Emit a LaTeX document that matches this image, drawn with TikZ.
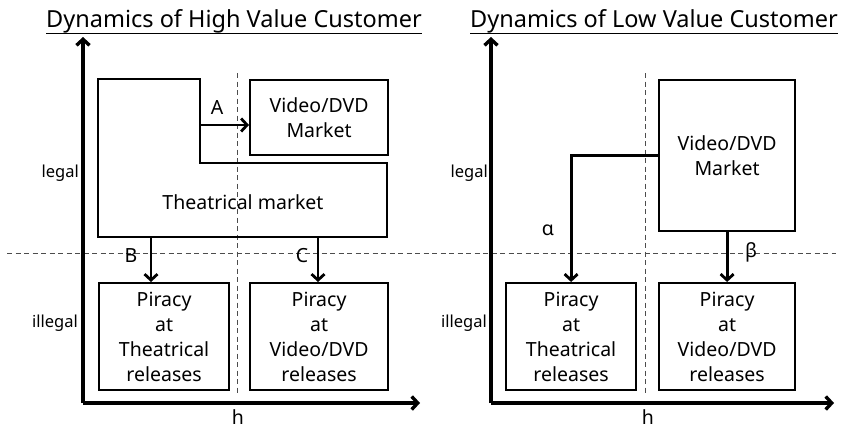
\documentclass[tikz,border=0pt]{standalone}
\usepackage{fontspec}
\setmainfont{Noto Sans}
\usetikzlibrary{arrows.meta,positioning}

\begin{document}
\begin{tikzpicture}[
  x=1pt,
  y=-1pt,
  >={Straight Barb[length=6pt,width=13pt]}
]

  \tikzstyle{boxnode}=[draw,rectangle,line width=2.2pt,inner sep=0pt,anchor=north west,align=center,font=\fontsize{19.5}{25}\selectfont]
  \tikzstyle{textnode}=[inner sep=0pt,font=\fontsize{19.5}{25}\selectfont]
  \tikzstyle{sidelab}=[inner sep=0pt,anchor=east,font=\fontsize{16.5}{18}\selectfont]
  \tikzstyle{titlenode}=[inner sep=0pt,anchor=base,font=\fontsize{23.5}{26}\selectfont]
  \tikzstyle{axis}=[draw,->,line width=3.4pt]
  \tikzstyle{pointer}=[draw,->,line width=2.8pt]
  \tikzstyle{guide}=[draw,dashed,line width=0.8pt,black!70,dash pattern=on 5pt off 3.5pt]

  \useasboundingbox (0,0) rectangle (842,431);

  % guides
  \draw[guide] (7,253) -- (836,253);
  \draw[guide] (237,73) -- (237,395);
  \draw[guide] (645,73) -- (645,395);

  % titles
  \node[titlenode] (titleH) at (234,27) {Dynamics of High Value Customer};
  \node[titlenode] (titleL) at (654,27) {Dynamics of Low Value Customer};
  \draw[line width=1pt] ([yshift=-6pt]titleH.base west) -- ([yshift=-6pt]titleH.base east);
  \draw[line width=1pt] ([yshift=-6pt]titleL.base west) -- ([yshift=-6pt]titleL.base east);

  % axes
  \coordinate (oH) at (83,403);
  \coordinate (oL) at (491,403);
  \draw[axis] (oH) -- (83,37);
  \draw[axis] (oH) -- (420,403);
  \draw[axis] (oL) -- (491,37);
  \draw[axis] (oL) -- (834,403);
  \node[sidelab] (legalH) at (79,173) {legal};
  \node[sidelab] (illegalH) at (78,323) {illegal};
  \node[sidelab] (legalL) at (488,173) {legal};
  \node[sidelab] (illegalL) at (487,323) {illegal};
  \node[textnode,anchor=base] (hH) at (238,424) {h};
  \node[textnode,anchor=base] (hL) at (648,424) {h};

  % high value nodes
  \draw[line width=2.2pt] (98,79) -- (200,79) -- (200,163) -- (387,163)
    -- (387,237) -- (98,237) -- cycle;
  \node[textnode] (theatre) at (243,202) {Theatrical market};
  \coordinate (tmA) at (200,125);
  \coordinate (tmB) at (151,237);
  \coordinate (tmC) at (318,237);
  \node[boxnode,minimum width=138pt,minimum height=75pt] (vidH) at (249,79) {Video/DVD\\Market};
  \node[boxnode,minimum width=130pt,minimum height=107pt] (pirTH) at (98,282) {Piracy\\at\\Theatrical\\releases};
  \node[boxnode,minimum width=138pt,minimum height=107pt] (pirVH) at (249,282) {Piracy\\at\\Video/DVD\\releases};

  % low value nodes
  \node[boxnode,minimum width=136pt,minimum height=151pt] (vidL) at (658,79) {Video/DVD\\Market};
  \node[boxnode,minimum width=130pt,minimum height=107pt] (pirTL) at (505,282) {Piracy\\at\\Theatrical\\releases};
  \node[boxnode,minimum width=136pt,minimum height=107pt] (pirVL) at (658,282) {Piracy\\at\\Video/DVD\\releases};

  % pointers
  \draw[pointer] (tmA) -- (tmA -| vidH.west);
  \draw[pointer] (tmB) -- (tmB |- pirTH.north);
  \draw[pointer] (tmC) -- (tmC |- pirVH.north);
  \draw[pointer] (vidL.west) -| (pirTL.north);
  \draw[pointer] (vidL.south) -- (pirVL.north);

  \node[textnode] (labA) at (217,108) {A};
  \node[textnode] (labB) at (131,256) {B};
  \node[textnode] (labC) at (302,256) {C};
  \node[textnode] (labAlpha) at (548,230) {α};
  \node[textnode] (labBeta) at (751,252) {β};

\end{tikzpicture}
\end{document}
